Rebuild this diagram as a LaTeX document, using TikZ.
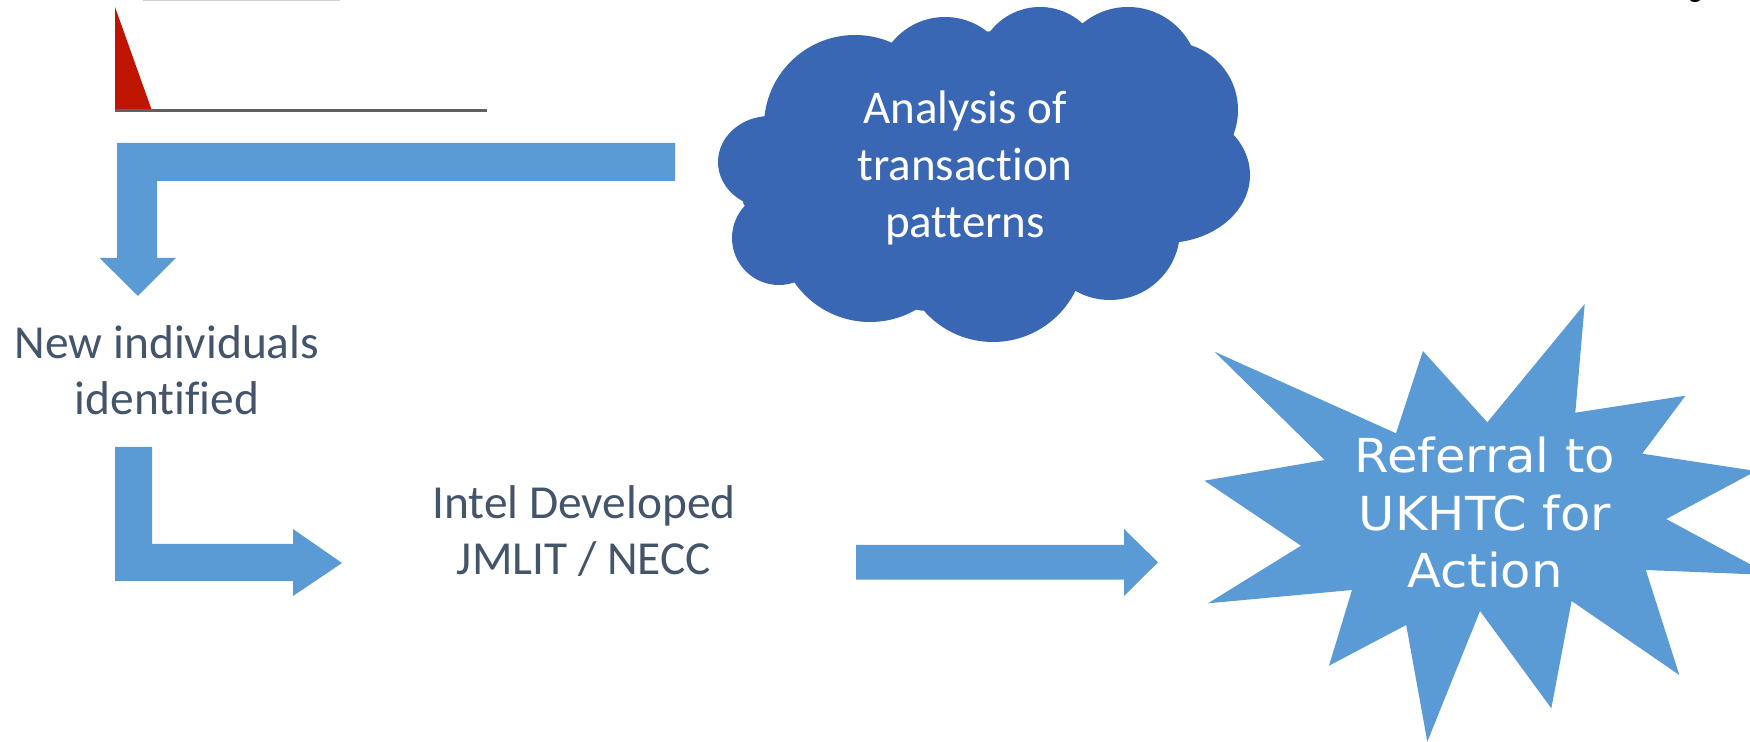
\documentclass[tikz,border=0pt]{standalone}
\usepackage{fontspec}
\newfontfamily\calib[Ligatures=NoCommon]{Carlito}
\newfontfamily\dejav[FakeStretch=1.06]{DejaVu Sans}
\definecolor{arrowblue}{HTML}{5B9BD5}
\definecolor{cloudblue}{RGB}{58,103,180}
\definecolor{textgray}{HTML}{44546A}
\definecolor{trired}{RGB}{190,20,0}
\definecolor{axisgray}{RGB}{96,96,96}
\begin{document}
\begin{tikzpicture}[x=0.5pt,y=-0.5pt,
  blockarrow/.style={fill=arrowblue, draw=none},
  cloudpart/.style={fill=cloudblue, draw=none},
  lbl/.style={text=textgray, font=\calib\fontsize{23.7}{28}\selectfont, align=center, inner sep=0pt},
  cloudtxt/.style={text=white, font=\calib\fontsize{23.5}{28.5}\selectfont, align=center, inner sep=0pt},
  startxt/.style={text=white, font=\dejav\fontsize{23.4}{28.75}\selectfont, align=center, inner sep=0pt}]
\useasboundingbox (0,0) rectangle (1750,742);
\fill[white] (0,0) rectangle (1750,742);

% cut-off items at the top edge
\draw[gray!35, line width=0.5pt] (143,0.6) -- (340,0.6);
\fill[black] (1695,0) ellipse[x radius=5, y radius=2];

% red triangle and base line
\fill[trired] (115,7) -- (115,110) -- (151.7,110) -- cycle;
\draw[axisgray, line width=1.25pt] (115,110.5) -- (487,110.5);

% cloud
\fill[cloudpart] (766,117) -- (891,44) -- (994.6,30.7) -- (1085.7,24) -- (1190,49.3) -- (1234,126)
  -- (1178.6,239.3) -- (1070.7,292.7) -- (921.4,310.7) -- (791,280.7) -- (742.9,202.7) -- cycle;
\fill[cloudpart] (855,126) circle[radius=91];
\fill[cloudpart] (945,85) circle[radius=68];
\fill[cloudpart] (1040,70) circle[radius=63];
\fill[cloudpart] (1128,78) circle[radius=71];
\fill[cloudpart] (1170,110) circle[radius=68];
\fill[cloudpart] (1165,175) ellipse[x radius=85, y radius=68];
\fill[cloudpart] (1110,230) circle[radius=70];
\fill[cloudpart] (993,250) circle[radius=92];
\fill[cloudpart] (870,230) circle[radius=92];
\fill[cloudpart] (779,238) circle[radius=47];
\fill[cloudpart] (770,162) ellipse[x radius=52, y radius=46];

% star
\fill[arrowblue] (1584.7,304) -- (1575.3,412.7) -- (1685.5,395.7) -- (1642.2,453.7) -- (1756,471)
  -- (1666.2,519) -- (1770,575) -- (1645.8,570) -- (1679.3,675) -- (1571.6,601) -- (1551.3,708.3)
  -- (1480,611) -- (1427.3,741.7) -- (1406.2,625) -- (1329,665.7) -- (1352,590) -- (1208,603.3)
  -- (1301,545.7) -- (1204.4,480.7) -- (1324.7,460) -- (1214.5,351.7) -- (1396,433.3)
  -- (1422.9,351) -- (1487.3,422.3) -- cycle;

% block arrows
\fill[blockarrow] (675,143) -- (117,143) -- (117,258) -- (99.6,258) -- (138,296) -- (176,258)
  -- (157,258) -- (157,181) -- (675,181) -- cycle;
\fill[blockarrow] (115,447) -- (152,447) -- (152,544) -- (293,544) -- (293,529) -- (342,563)
  -- (293,596) -- (293,581) -- (115,581) -- cycle;
\fill[blockarrow] (856,545) -- (1124,545) -- (1124,529) -- (1158,562.3) -- (1124,596)
  -- (1124,579.5) -- (856,579.5) -- cycle;

% texts (base anchor = baseline of the last line)
\node[lbl, anchor=base] (newind) at (167,415) {New individuals\\identified};
\node[lbl, anchor=base] (intel) at (584,574.3) {Intel Developed\\JMLIT / NECC};
\node[cloudtxt, anchor=base] (anal) at (965,238) {Analysis of\\transaction\\patterns};
\node[startxt, anchor=base] (refer) at (1485,587.7) {Referral to\\UKHTC for\\Action};
\end{tikzpicture}
\end{document}
